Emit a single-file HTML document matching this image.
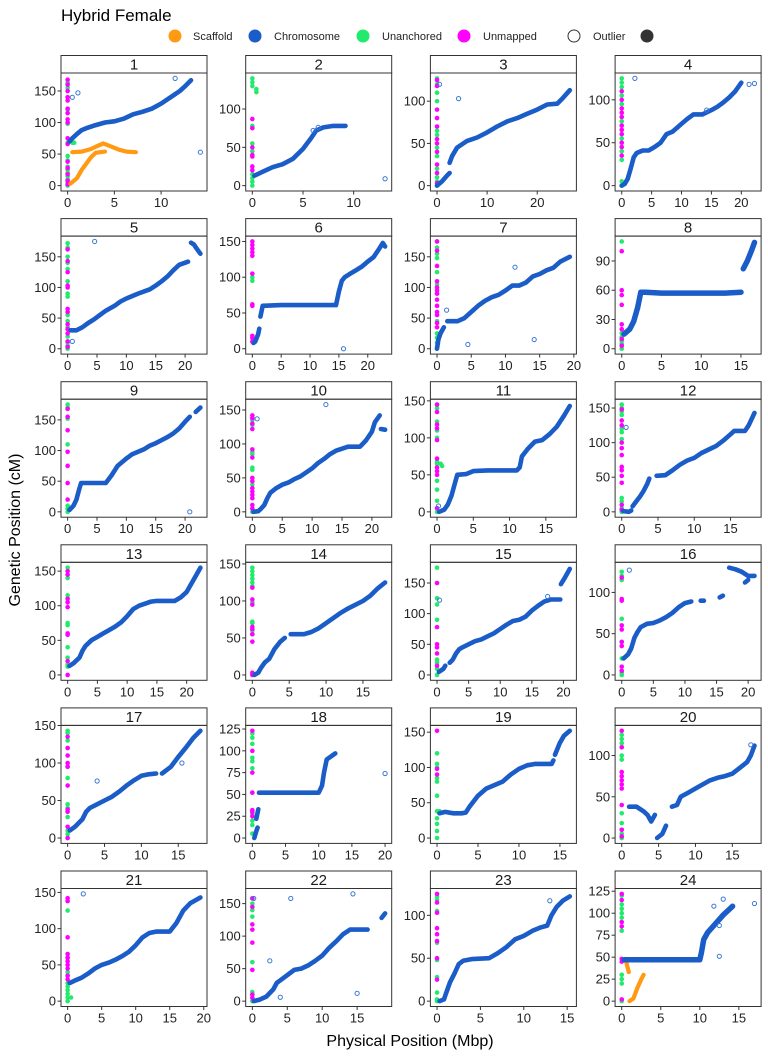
<!DOCTYPE html>
<html><head><meta charset="utf-8">
<style>
html,body{margin:0;padding:0;background:#fff;}
svg text{font-family:"Liberation Sans",Arial,sans-serif;}
</style></head>
<body>
<svg id="chart" width="768" height="1056" viewBox="0 0 768 1056" xmlns="http://www.w3.org/2000/svg">
<text x="61" y="21" font-size="17" fill="#000">Hybrid Female</text>
<g font-size="11" fill="#222">
 <g><circle cx="175" cy="36" r="6.5" fill="#ff9a12"/><text x="193" y="40">Scaffold</text></g>
 <g><circle cx="255" cy="36" r="6.5" fill="#1a5cc8"/><text x="274" y="40">Chromosome</text></g>
 <g><circle cx="363" cy="36" r="6.5" fill="#22ea6c"/><text x="382" y="40">Unanchored</text></g>
 <g><circle cx="464" cy="36" r="6.5" fill="#ff00ff"/><text x="483" y="40">Unmapped</text></g>
 <g><circle cx="574" cy="36" r="6" fill="#fff" stroke="#333" stroke-width="1"/><text x="593" y="40">Outlier</text></g>
 <g><circle cx="647" cy="36" r="6.5" fill="#333"/></g>
</g>
<text transform="translate(20,530) rotate(-90)" text-anchor="middle" font-size="16" fill="#000">Genetic Position (cM)</text>
<text x="410" y="1046" text-anchor="middle" font-size="16" fill="#000">Physical Position (Mbp)</text>
<g id="panels"></g>
</svg>
<script>
const chromosomes = ["1","2","3","4","5","6","7","8","9","10","11","12","13","14","15","16","17","18","19","20","21","22","23","24"];
const xTicks = [[0,5,10],[0,5,10],[0,10,20],[0,5,10,15,20],[0,5,10,15,20],[0,5,10,15,20],[0,5,10,15,20],[0,5,10,15],[0,5,10,15,20],[0,5,10,15,20],[0,5,10,15],[0,5,10,15],[0,5,10,15,20],[0,5,10,15],[0,5,10,15,20],[0,5,10,15,20],[0,5,10,15],[0,5,10,15,20],[0,5,10,15],[0,5,10,15],[0,5,10,15,20],[0,5,10,15],[0,5,10,15],[0,5,10,15]];
const yTicks = [[0,50,100,150],[0,50,100],[0,50,100],[0,50,100],[0,50,100,150],[0,50,100,150],[0,50,100,150],[0,30,60,90],[0,50,100,150],[0,50,100,150],[0,50,100,150],[0,50,100,150],[0,50,100,150],[0,50,100,150],[0,50,100,150],[0,50,100],[0,50,100,150],[0,25,50,75,100,125],[0,50,100,150],[0,50,100],[0,50,100,150],[0,50,100,150],[0,50,100],[0,25,50,75,100,125]];
const chromSeries = [
 [[0.2,70],[0.5,75],[1,82],[1.5,88],[2,91],[3,96],[4,100],[5,102],[6,106],[7,113],[8,117],[9,122],[10,130],[11,140],[12,150],[12.6,158],[13.2,167]],
 [[0.2,13],[1,18],[2,24],[3,28],[4,35],[5,48],[5.8,62],[6.3,72],[7,76],[8,78],[9.2,78]],
 [[0,0],[1,5],[2,12],[2.5,15],null,[2.5,27],[3,35],[4,45],[6,53],[8,57],[10,63],[12,70],[14,76],[16,80],[18,85],[20,90],[22,96],[24,97],[25,103],[26.5,113]],
 [[0,0],[0.5,2],[1,8],[1.5,20],[2,33],[2.5,38],[3.5,41],[4.5,41],[5.5,45],[6.5,50],[7.5,60],[8.5,63],[10,72],[11,78],[12,83],[13.5,83],[15,88],[16,92],[17,97],[18,103],[19,110],[20,120]],
 [[0.5,30],[1.5,30],[2.5,35],[3.5,42],[4.5,48],[5.5,55],[6.5,62],[8,70],[9,77],[10,82],[12,90],[14,97],[15,103],[16,110],[17,118],[18,128],[19,137],[20.5,142],null,[21,173],[21.5,170],[22,163],[22.6,155]],
 [[0.2,8],[0.5,10],[1,20],[1.2,28],null,[1.4,45],[1.8,60],[5,61],[10,61],[14.5,61],[15,80],[15.5,95],[16,100],[17,105],[18,110],[19,115],[20,122],[21,128],[22,140],[22.6,148],[23,143]],
 [[0,0],[0.2,15],[0.5,25],[1,35],null,[1.5,45],[3,45],[4,50],[5,60],[6,70],[7,78],[8,84],[9,88],[10,95],[11,103],[12,103],[13,108],[14,118],[15,122],[16,128],[17,132],[18,142],[19.4,150]],
 [[0.3,15],[1,20],[1.5,28],[2,42],[2.4,58],[3,58],[5,57],[7,57],[9,57],[11,57],[13,57],[15,58],null,[15.3,82],[15.8,90],[16.3,100],[16.7,109]],
 [[0.3,3],[1,10],[1.5,20],[2,38],[2.3,47],[4,47],[6.5,47],[7.5,60],[8.5,75],[10,87],[11,94],[12,98],[13,102],[14,108],[15,112],[16,117],[17,122],[18,128],[19,136],[20,147],[20.8,155],null,[21.8,163],[22.6,170]],
 [[0.2,0],[1,1],[1.5,5],[2,10],[2.5,20],[3,28],[4,35],[5,40],[6,43],[7,48],[8,52],[9,58],[10,64],[11,72],[12,78],[13,85],[14,90],[15,93],[16,96],[17,96],[18,96],[19,105],[20,118],[20.5,132],[21.3,142],null,[21.5,122],[22.2,121]],
 [[0.3,0],[1,3],[1.5,10],[2,22],[2.5,40],[2.8,50],[4,51],[5,55],[7,56],[9,56],[11,56],[11.4,60],[11.7,75],[12.5,85],[13.5,95],[14.5,97],[15.5,105],[16.5,115],[17.5,130],[18.3,143]],
 [[0.2,1],[1,0],[1.3,2],null,[1.5,8],[2,15],[2.5,22],[3,30],[3.5,40],[3.8,48],null,[4.8,52],[6,53],[7,60],[8,68],[9,74],[10,78],[11,85],[12,90],[13,95],[14,103],[15,112],[15.5,117],[17,117],[17.5,125],[18.3,143]],
 [[0.3,13],[1,17],[2,25],[2.5,35],[3,42],[4,50],[5,55],[6,60],[7,65],[8,70],[9,76],[10,85],[11,95],[12,100],[13,103],[14,106],[15,107],[18,107],[19,112],[20,120],[21,135],[22.3,155]],
 [[0.3,0],[0.8,3],[1.2,10],[1.7,17],[2.3,22],[3,35],[3.8,45],[4.4,50],null,[5.2,55],[7,55],[8,58],[9,63],[10,70],[11,77],[12,84],[13,90],[14,95],[15,100],[16,107],[17,117],[18,125]],
 [[0.3,5],[1,10],[1.3,15],null,[2,20],[2.5,25],[3,35],[3.5,42],[4,45],[5,50],[6,55],[7,58],[8,63],[9,68],[10,75],[11,82],[12,88],[13,90],[14,95],[15,105],[16,113],[17,120],[18,123],[19.5,123],null,[19.6,148],[20.3,160],[21,173]],
 [[0.3,20],[1,25],[1.5,32],[2,45],[2.5,52],[3,58],[4,62],[5,63],[6,66],[7,70],[8,75],[9,82],[10,87],[11,89],null,[12.5,90],[13,90],null,[15.5,94],[16,96],null,[17,130],[18,128],[19,125],[20,120],[21,120],null,[19.5,112],[20,115]],
 [[0.3,10],[1,15],[2,25],[2.5,35],[3,40],[4,45],[5,50],[6,55],[7,62],[8,70],[9,77],[10,83],[11,85],[12,86],null,[12.8,86],[14,95],[15,108],[16,120],[17,133],[18,143]],
 [[0.3,0],[0.6,8],[0.8,12],null,[0.6,22],[0.9,33],null,[1,52],[5,52],[10,52],[10.5,60],[10.8,75],[11.2,90],[12.5,97]],
 [[0.3,35],[1,37],[2,35],[3,35],[3.5,36],[4,45],[5,60],[6,70],[7,75],[8,80],[9,90],[10,98],[11,103],[12,105],[13,105],[14,105],[14.2,110],null,[14.4,118],[15,135],[15.5,145],[16.2,152]],
 [[1,38],[2,38],[3,32],[3.5,28],[4,20],[4.5,28],null,[4.8,0],[5.5,5],[6,15],null,[6.8,38],[7.5,40],[8,50],[9,55],[10,60],[11,65],[12,70],[13,73],[14,75],[15,78],[16,85],[17,92],[17.5,100],[18,112]],
 [[0.3,25],[1,28],[2,32],[3,38],[4,45],[5,50],[6,53],[7,57],[8,62],[9,68],[10,77],[11,88],[12,94],[13,96],[15,96],[16,108],[17,125],[18,135],[19.5,143]],
 [[0.2,0],[1,2],[2,7],[3,18],[3.5,28],[4,32],[5,40],[6,48],[7,50],[8,55],[9,62],[10,70],[11,82],[12,92],[13,103],[14,110],[15.5,110],[16.5,110],null,[18.4,110],null,[18.5,128],[19,135]],
 [[0.3,0],[0.8,2],[1,8],[1.5,22],[2,32],[2.5,43],[3,47],[4,49],[6,50],[7,56],[8,63],[9,72],[10,76],[11,82],[12,86],[12.7,88],[13.2,100],[13.8,110],[14.5,117],[15.3,122]],
 [[0.3,47],[5,47],[10,47],[10.2,55],[10.5,70],[11,78],[12,88],[13,98],[14.2,108]]
];
const unanchored = [
 [[0,0],[0,2],[0,5],[0,10],[0,15],[0,20],[0,25],[0,30],[0,40],[0,47],[0,68],[0,98],[0,120],[0,140],[0,155],[0,163],[0.5,68],[0.7,68]],
 [[0,0],[0,5],[0,10],[0,15],[0,45],[0,55],[0,78],[0,130],[0,135],[0,140],[0.4,122],[0.4,126]],
 [[0,0],[0,5],[0,10],[0,20],[0,35],[0,45],[0,60],[0,65],[0,100],[0,110],[0,120],[0,127]],
 [[0,0],[0,5],[0,30],[0,40],[0,55],[0,75],[0,95],[0,105],[0,115],[0,120],[0,125]],
 [[0,0],[0,5],[0,10],[0,20],[0,35],[0,45],[0,55],[0,85],[0,90],[0,110],[0,130],[0,140],[0,150],[0,165],[0,172]],
 [[0,95],[0,100]],
 [[0,2],[0,10],[0,18],[0,25],[0,45],[0,70],[0,90],[0,105],[0,125],[0,148],[0,155],[0,165],[0,175]],
 [[0,0],[0,5],[0,8],[0,12],[0,16],[0,110]],
 [[0,0],[0,5],[0,10],[0,110],[0,152],[0,170],[0,175]],
 [[0,0],[0,40],[0,62],[0,65],[0,85],[0,88],[0,128],[0,135]],
 [[0,0],[0,15],[0,30],[0,42],[0,60],[0,65],[0,68],[0,100],[0,110],[0,122],[0,140],[0,145],[0.5,65],[0.7,62]],
 [[0,0],[0,5],[0,15],[0,20],[0,105],[0,115],[0,120],[0,140],[0,145],[0,150],[0,155]],
 [[0,12],[0,15],[0,25],[0,40],[0,72],[0,75],[0,115],[0,140],[0,155]],
 [[0,55],[0,60],[0,70],[0,72],[0,98],[0,120],[0,125],[0,130],[0,135],[0,140],[0,145]],
 [[0,0],[0,10],[0,20],[0,25],[0,90],[0,115],[0,125],[0,175]],
 [[0,0],[0,3],[0,20],[0,40],[0,68],[0,115],[0,120],[0,125]],
 [[0,0],[0,5],[0,10],[0,28],[0,40],[0,45],[0,80],[0,95],[0,120],[0,130],[0,140],[0,143]],
 [[0,5],[0,15],[0,20],[0,28],[0,52],[0,80],[0,88],[0,92],[0,108],[0,115],[0,120]],
 [[0,0],[0,10],[0,20],[0,28],[0,38],[0,60],[0,80],[0,85],[0,100],[0,105],[0,120],[0.3,38]],
 [[0,0],[0,5],[0,10],[0,18],[0,30],[0,95],[0,100],[0,110],[0,115],[0,120],[0,125]],
 [[0,0],[0,5],[0,10],[0,15],[0,20],[0,25],[0,35],[0,40],[0,60],[0,125],[0.5,5]],
 [[0,0],[0,10],[0,14],[0,60],[0,130],[0,140],[0,150],[0,158]],
 [[0,0],[0,2],[0,10],[0,28],[0,48],[0,68],[0,105],[0,118],[0,122]],
 [[0,0],[0,20],[0,25],[0,30],[0,80],[0,95],[0,100],[0,105],[0,110],[0,120]]
];
const unmapped = [
 [2,8,18,28,38,66,75,100,105,115,122,135,140,150,160,168],
 [20,25,38,40,50,75,87],
 [3,15,25,40,50,55,70,80,90,118,125],
 [35,45,50,60,65,70,80,85,90,100,110],
 [3,12,25,32,40,60,65,100,103,125,143,162],
 [10,15,18,60,62,105,130,135,140,145,150],
 [35,42,55,60,70,80,90,95,100,110,135,160,175],
 [3,10,20,25,45,55,60,100],
 [20,47,75,98,133,155,168],
 [5,10,20,25,30,35,45,50,80,92,122,130,138,142],
 [5,50,55,60,72,97,113,118,135,145],
 [3,10,42,52,60,65,82,92,100,125,132,148],
 [0,20,58,60,98,105,110,145,150],
 [0,3,45,55,62,65,95,102,118],
 [15,35,45,50,78,150],
 [5,10,35,40,55,60,90,92,118],
 [0,15,35,38,70,95,100,110,120,135],
 [25,30,32,52,75,100,123],
 [90,98,152],
 [2,10,40,60,65,70,75,80,110,130],
 [30,35,45,50,55,60,65,88,138,142],
 [5,10,48,90,110,118,145,158],
 [25,50,70,78,85,103,115,125],
 [2,45,48,85,90,115,122]
];
const outliers = [
 [[0.5,140],[1.1,147],[11.5,170],[14.2,53]],
 [[6,72],[6.5,76],[13.1,9]],
 [[0.5,120],[4.3,103]],
 [[2.2,125],[14.2,88],[21.3,118],[22.2,119]],
 [[4.6,175],[0.8,12]],
 [[15.8,0]],
 [[1.4,63],[4.5,7],[11.4,133],[14.2,15]],
 [],
 [[20.8,0]],
 [[0.8,137],[12.3,158]],
 [[0.2,8]],
 [[0.6,122]],
 [],
 [],
 [[0.4,122],[17.5,128]],
 [[1.2,127]],
 [[4,76],[15.5,100]],
 [[20,74]],
 [],
 [[17.5,113]],
 [[2.3,148]],
 [[2.5,62],[4,6],[5.5,158],[14.4,165],[15,12],[0.2,158]],
 [[13,117]],
 [[11.8,108],[12.5,86],[12.5,51],[13,116],[17,111]]
];
const scaffold = [
 [[0.3,3],[1,12],[1.5,25],[2,35],[2.5,45],[3,52],[4,54],null,[0.5,53],[1.5,54],[2.5,58],[3.2,63],[3.8,67],[4.5,63],[5.5,57],[6.3,54],[7.3,53]],
 [],[],[],[],[],[],[],[],[],[],[],[],[],[],[],[],[],[],[],[],[],[],
 [[0.5,48],[0.7,40],[0.9,33],null,[1,0],[1.5,3],[2,15],[2.5,25],[2.8,30]]
];

const NS = "http://www.w3.org/2000/svg";
const root = document.getElementById("panels");
function mk(tag, attrs, parent){
  const e = document.createElementNS(NS, tag);
  for (const k in attrs) e.setAttribute(k, attrs[k]);
  parent.appendChild(e);
  return e;
}
function pathFrom(pts, sx, sy){
  let d = "", pen = false;
  for (const p of pts){
    if (!p){ pen = false; continue; }
    d += (pen ? "L" : "M") + sx(p[0]).toFixed(1) + "," + sy(p[1]).toFixed(1);
    pen = true;
  }
  return d;
}
chromosomes.forEach((name, i) => {
  const col = i % 4, row = Math.floor(i / 4);
  const left = 61 + col * 184.7, width = 146;
  const stripTop = 55.5 + row * 163.1, stripH = 17.5;
  const top = stripTop + stripH, height = 118;
  const xs = [], ys = [];
  const collect = arr => arr.forEach(p => { if (p){ xs.push(p[0]); ys.push(p[1]); } });
  collect(chromSeries[i]); collect(unanchored[i]); collect(outliers[i]); collect(scaffold[i]);
  unmapped[i].forEach(v => { xs.push(0); ys.push(v); });
  const x0 = Math.min(...xs), x1 = Math.max(...xs), y0 = Math.min(...ys), y1 = Math.max(...ys);
  const xr = [x0 - 0.05*(x1-x0), x1 + 0.05*(x1-x0)], yr = [y0 - 0.05*(y1-y0), y1 + 0.05*(y1-y0)];
  const sx = v => left + (v - xr[0]) / (xr[1]-xr[0]) * width;
  const sy = v => top + height - (v - yr[0]) / (yr[1]-yr[0]) * height;

  const g = mk("g", {}, root);
  
  
  const clipId = "clip" + i;
  const cp = mk("clipPath", {id: clipId}, g);
  mk("rect", {x: left, y: top, width: width, height: height}, cp);

  const strip = mk("rect", {x: left, y: stripTop, width: width, height: stripH, fill: "#fff", stroke: "#333", "stroke-width": 1}, g);
  
  
  const st = mk("text", {x: left + width/2, y: stripTop + 14, "text-anchor": "middle", "font-size": 15, fill: "#1a1a1a"}, g);
  st.textContent = name;
  
  

  const marks = mk("g", {"clip-path": "url(#" + clipId + ")"}, g);
  
  

  unanchored[i].forEach(p => {
    const c = mk("circle", {cx: sx(p[0]), cy: sy(p[1]), r: 2.3, fill: "#22ea6c"}, marks);
    
    
  });
  unmapped[i].forEach(v => {
    const c = mk("circle", {cx: sx(0), cy: sy(v), r: 2.3, fill: "#ff00ff"}, marks);
    
    
  });
  if (scaffold[i].length){
    const sp = mk("path", {d: pathFrom(scaffold[i], sx, sy), fill: "none", stroke: "#ff9a12", "stroke-width": 4.2, "stroke-linecap": "round", "stroke-linejoin": "round"}, marks);
    
    
  }
  const cpth = mk("path", {d: pathFrom(chromSeries[i], sx, sy), fill: "none", stroke: "#1a5cc8", "stroke-width": (i === 7 || i === 23) ? 5.5 : 4.6, "stroke-linecap": "round", "stroke-linejoin": "round"}, marks);
  
  
  outliers[i].forEach(p => {
    const c = mk("circle", {cx: sx(p[0]), cy: sy(p[1]), r: 2.1, fill: "none", stroke: "#3a78d4", "stroke-width": 1}, marks);
    
    
  });

  const frame = mk("rect", {x: left, y: top, width: width, height: height, fill: "none", stroke: "#333", "stroke-width": 1}, g);
  
  

  const xa = mk("g", {}, g);
  
  
  xTicks[i].forEach(t => {
    const X = sx(t);
    mk("line", {x1: X, x2: X, y1: top + height, y2: top + height + 3.5, stroke: "#333", "stroke-width": 1}, xa);
    const tx = mk("text", {x: X, y: top + height + 16, "text-anchor": "middle", "font-size": 13, fill: "#222"}, xa);
    tx.textContent = t;
    
    
  });
  const ya = mk("g", {}, g);
  
  
  yTicks[i].forEach(t => {
    const Y = sy(t);
    mk("line", {x1: left - 3.5, x2: left, y1: Y, y2: Y, stroke: "#333", "stroke-width": 1}, ya);
    const tx = mk("text", {x: left - 5, y: Y + 4.5, "text-anchor": "end", "font-size": 13, fill: "#222"}, ya);
    tx.textContent = t;
    
    
  });
});
</script>
</body></html>
